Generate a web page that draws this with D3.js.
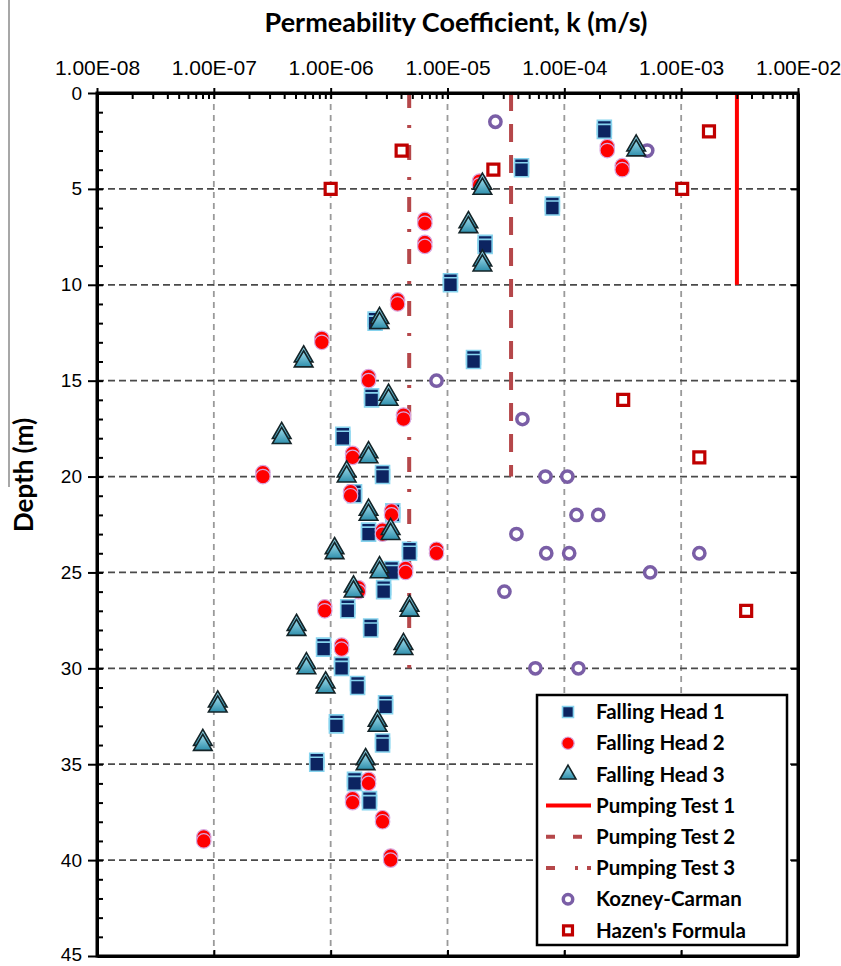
<!DOCTYPE html>
<html>
<head>
<meta charset="utf-8">
<script src="https://cdn.jsdelivr.net/npm/d3@7"></script>
<style>
  body { margin: 0; background: #fff; }
  svg { display: block; font-family: Lato, "Open Sans", sans-serif; }
</style>
</head>
<body>
<div id="chart"></div>
<script>
'use strict';

// [depth (m), k (m/s)]
var fallingHead1 = [
  [2, 2.2e-4], [4, 4.3e-5], [6, 7.9e-5], [8, 2.1e-5], [10, 1.06e-5],
  [12, 2.4e-6], [14, 1.67e-5], [16, 2.24e-6], [18, 1.27e-6], [20, 2.78e-6],
  [21, 1.6e-6], [22, 3.4e-6], [23, 2.11e-6], [24, 4.73e-6], [25, 3.32e-6],
  [26, 2.84e-6], [27, 1.4e-6], [28, 2.2e-6], [29, 8.7e-7], [30, 1.24e-6],
  [31, 1.7e-6], [32, 2.95e-6], [33, 1.12e-6], [34, 2.78e-6], [35, 7.6e-7],
  [36, 1.6e-6], [37, 2.15e-6]
];

var fallingHead2 = [
  [3, 2.33e-4], [4, 3.13e-4], [4.8, 1.88e-5], [6.8, 6.4e-6], [8, 6.4e-6],
  [11, 3.74e-6], [13, 8.4e-7], [15, 2.11e-6], [17, 4.2e-6], [19, 1.54e-6],
  [20, 2.63e-7], [21, 1.48e-6], [22, 3.32e-6], [23, 2.78e-6], [24, 8.05e-6],
  [25, 4.38e-6], [26, 1.73e-6], [27, 8.9e-7], [29, 1.24e-6], [36, 2.11e-6],
  [37, 1.54e-6], [38, 2.78e-6], [39, 8.2e-8], [40, 3.26e-6]
];

var fallingHead3 = [
  [3, 4.12e-4], [5, 1.99e-5], [7, 1.51e-5], [9, 1.99e-5], [12, 2.62e-6],
  [14, 5.87e-7], [16, 3.13e-6], [18, 3.81e-7], [19, 2.11e-6], [20, 1.37e-6],
  [22, 2.11e-6], [23, 3.26e-6], [24, 1.08e-6], [25, 2.62e-6], [26, 1.57e-6],
  [27, 4.73e-6], [28, 5.1e-7], [29, 4.2e-6], [30, 6.2e-7], [31, 9.05e-7],
  [32, 1.08e-7], [33, 2.52e-6], [34, 8.05e-8], [35, 1.99e-6]
];

var kozneyCarman = [
  [1.5, 2.57e-5], [3, 5.12e-4], [15, 8.05e-6], [17, 4.38e-5], [20, 6.89e-5],
  [20, 1.06e-4], [22, 1.27e-4], [22, 1.95e-4], [23, 3.89e-5], [24, 7.0e-5],
  [24, 1.1e-4], [24, 1.43e-3], [25, 5.43e-4], [26, 3.07e-5], [30, 5.65e-5],
  [30, 1.32e-4]
];

var hazen = [
  [2, 1.73e-3], [3, 4.05e-6], [4, 2.47e-5], [5, 1.0e-6], [5, 1.02e-3],
  [16, 3.19e-4], [19, 1.43e-3], [27, 3.6e-3]
];

var pumpingNames = ['Pumping Test 1', 'Pumping Test 2', 'Pumping Test 3'];
var pumpingK = [3.0e-3, 3.5e-5, 4.7e-6];
var pumpingDepth = [10, 20, 30];

var kTicks = [1e-8, 1e-7, 1e-6, 1e-5, 1e-4, 1e-3, 1e-2];
var depthTicks = [0, 5, 10, 15, 20, 25, 30, 35, 40, 45];

var legendNames = ['Falling Head 1', 'Falling Head 2', 'Falling Head 3',
  'Pumping Test 1', 'Pumping Test 2', 'Pumping Test 3',
  'Kozney-Carman', "Hazen's Formula"];

var W = 841, H = 966;
var x0 = 97, x1 = 798, y0 = 93, y1 = 956;

var svg = d3.select('#chart').append('svg')
  .attr('width', W)
  .attr('height', H);

var defs = svg.append('defs');
var grad = defs.append('linearGradient')
  .attr('id', 'teal')
  .attr('x1', 0).attr('y1', 0).attr('x2', 0).attr('y2', 1);
grad.append('stop').attr('offset', '0%').attr('stop-color', '#9fdcec');
grad.append('stop').attr('offset', '100%').attr('stop-color', '#2f8fac');

var x = d3.scaleLog().domain([1e-8, 1e-2]).range([x0, x1]);
var y = d3.scaleLinear().domain([0, 45]).range([y0, y1]);

var fmtK = function(d){
  var e = Math.round(Math.log10(d));
  return '1.00E' + (e < 0 ? '-' : '+') + String(Math.abs(e)).padStart(2, '0');
};

// stray scan line on the left edge
svg.append('line')
  .attr('x1', 9).attr('x2', 9).attr('y1', 0).attr('y2', 487)
  .attr('stroke', '#8a8a8a').attr('stroke-width', 1.5);

// grid
svg.append('g').selectAll('line')
  .data(kTicks.slice(1, -1))
  .enter().append('line')
    .attr('x1', function(d){ return x(d); })
    .attr('x2', function(d){ return x(d); })
    .attr('y1', y0).attr('y2', y1)
    .attr('stroke', '#9a9a9a')
    .attr('stroke-width', 1.8)
    .attr('stroke-dasharray', '6,5');

svg.append('g').selectAll('line')
  .data(depthTicks.slice(1, -1))
  .enter().append('line')
    .attr('x1', x0).attr('x2', x1)
    .attr('y1', function(d){ return y(d); })
    .attr('y2', function(d){ return y(d); })
    .attr('stroke', '#4a4a4a')
    .attr('stroke-width', 1.8)
    .attr('stroke-dasharray', '7,4');

// pumping tests
var pumpStyle = [
  {color: '#ff0000', dash: null},
  {color: '#b5474a', dash: '18,13'},
  {color: '#b5474a', dash: '15,17,3,17'}
];
svg.append('g').selectAll('line')
  .data(pumpingK)
  .enter().append('line')
    .attr('x1', function(d){ return x(d); })
    .attr('x2', function(d){ return x(d); })
    .attr('y1', y(0))
    .attr('y2', function(d, i){ return y(pumpingDepth[i]); })
    .attr('stroke', function(d, i){ return pumpStyle[i].color; })
    .attr('stroke-width', 4)
    .attr('stroke-dasharray', function(d, i){ return pumpStyle[i].dash; });

// axes
var axisTop = d3.axisTop(x).tickValues(kTicks).tickFormat(fmtK).tickSizeInner(5).tickSizeOuter(0);
var gTop = svg.append('g').attr('transform', 'translate(0,' + y0 + ')').call(axisTop);
gTop.selectAll('text').attr('font-size', 21).attr('y', -18).attr('dy', 0).attr('fill', '#000');

var minorK = [];
kTicks.slice(0, -1).forEach(function(d){
  for (var m = 1; m < 10; m++) minorK.push(d * m);
});
minorK.push(1e-2);
svg.append('g').attr('transform', 'translate(0,' + y0 + ')')
  .call(d3.axisTop(x).tickValues(minorK).tickFormat('').tickSizeInner(-6).tickSizeOuter(0));

svg.append('g').attr('transform', 'translate(0,' + y1 + ')')
  .call(d3.axisBottom(x).tickValues(kTicks).tickFormat('').tickSizeInner(-6).tickSizeOuter(0));

var gLeft = svg.append('g').attr('transform', 'translate(' + x0 + ',0)')
  .call(d3.axisLeft(y).tickValues(depthTicks).tickSizeInner(9).tickSizeOuter(0).tickPadding(6));
gLeft.selectAll('text')
  .attr('font-size', 19).attr('fill', '#000')
  .attr('dy', function(d){ return d == 45 ? '0.22em' : '0.32em'; });

svg.append('g').attr('transform', 'translate(' + x0 + ',0)')
  .call(d3.axisLeft(y).tickValues(d3.range(0, 46)).tickFormat('').tickSizeInner(-6).tickSizeOuter(0));

svg.append('g').attr('transform', 'translate(' + x1 + ',0)')
  .call(d3.axisRight(y).tickValues(depthTicks).tickFormat('').tickSizeInner(-7).tickSizeOuter(0));

svg.selectAll('.domain').attr('stroke', '#000').attr('stroke-width', 3);
svg.selectAll('.tick line').attr('stroke', '#000').attr('stroke-width', 2);

// frame
svg.append('rect')
  .attr('x', x0).attr('y', y0)
  .attr('width', x1 - x0).attr('height', y1 - y0)
  .attr('fill', 'none').attr('stroke', '#000').attr('stroke-width', 3);

// markers
var sym = function(type, size){ return d3.symbol().type(type).size(size)(); };

var styles = {
  fh1: {path: sym(d3.symbolSquare, 196), fill: '#0c2461', stroke: '#86d3ee', sw: 1.6},
  fh2: {path: sym(d3.symbolCircle, 165), fill: '#ff0000', stroke: '#d8a8e0', sw: 1.2},
  fh3: {path: sym(d3.symbolTriangle, 150), fill: 'url(#teal)', stroke: '#142428', sw: 1.6},
  kc: {path: sym(d3.symbolCircle, 100), fill: '#fff', stroke: '#7a5ea6', sw: 3.5},
  hz: {path: sym(d3.symbolSquare, 121), fill: '#fff', stroke: '#c00000', sw: 3.2}
};

var drawSeries = function(data, st, ghost){
  var g = svg.append('g');
  var pts = g.selectAll('g')
    .data(data)
    .enter().append('g')
      .attr('transform', function(d){ return 'translate(' + x(d[1]) + ',' + y(d[0]) + ')'; });
  if (ghost){
    pts.append('path')
      .attr('d', st.path)
      .attr('transform', 'translate(0,' + (-ghost) + ')')
      .attr('fill', st.fill).attr('stroke', st.stroke).attr('stroke-width', st.sw);
  }
  pts.append('path')
    .attr('d', st.path)
    .attr('fill', st.fill).attr('stroke', st.stroke).attr('stroke-width', st.sw);
};

drawSeries(hazen, styles.hz, 0);
drawSeries(kozneyCarman, styles.kc, 0);
drawSeries(fallingHead1, styles.fh1, 4);
drawSeries(fallingHead2, styles.fh2, 4);
drawSeries(fallingHead3, styles.fh3, 5);

// titles
svg.append('text')
  .attr('x', 456).attr('y', 32)
  .attr('text-anchor', 'middle')
  .attr('font-size', 27).attr('font-weight', 'bold')
  .text('Permeability Coefficient, k (m/s)');

svg.append('text')
  .attr('transform', 'translate(33,475) rotate(-90)')
  .attr('text-anchor', 'middle')
  .attr('font-size', 26).attr('font-weight', 'bold')
  .text('Depth (m)');

// legend
var lg = svg.append('g').attr('transform', 'translate(537,695)');
lg.append('rect')
  .attr('width', 250).attr('height', 250)
  .attr('fill', '#fff').attr('stroke', '#000').attr('stroke-width', 2.5);

var legendMark = [
  {sym: styles.fh1}, {sym: styles.fh2}, {sym: styles.fh3},
  {line: pumpStyle[0]}, {line: pumpStyle[1]}, {line: pumpStyle[2]},
  {sym: styles.kc}, {sym: styles.hz}
];
var legendSym = [
  sym(d3.symbolSquare, 120), sym(d3.symbolCircle, 120), sym(d3.symbolTriangle, 110),
  null, null, null, sym(d3.symbolCircle, 70), sym(d3.symbolSquare, 80)
];

var items = lg.selectAll('g.item')
  .data(legendNames)
  .enter().append('g')
    .attr('class', 'item')
    .attr('transform', function(d, i){ return 'translate(0,' + (17 + i * 31.2) + ')'; });

items.each(function(d, i){
  var it = d3.select(this);
  var m = legendMark[i];
  if (m.line){
    it.append('line')
      .attr('x1', 9).attr('x2', 54)
      .attr('stroke', m.line.color).attr('stroke-width', 4)
      .attr('stroke-dasharray', m.line.dash ? (i == 4 ? '9,18,9' : '9,20,3') : null);
  } else {
    it.append('path')
      .attr('transform', 'translate(31,0)')
      .attr('d', legendSym[i])
      .attr('fill', m.sym.fill).attr('stroke', m.sym.stroke).attr('stroke-width', m.sym.sw);
  }
  it.append('text')
    .attr('x', 59).attr('dy', '0.35em')
    .attr('font-size', 20.5).attr('font-weight', 'bold')
    .text(d);
});
</script>
</body>
</html>
